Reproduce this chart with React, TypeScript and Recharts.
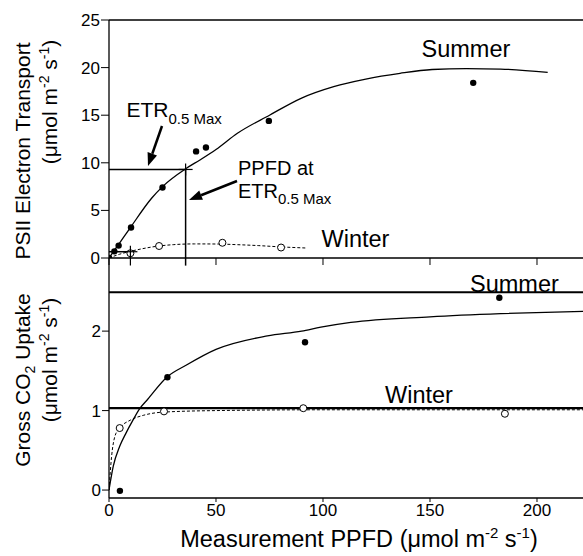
import { ComposedChart, Line, Scatter, XAxis, YAxis, ReferenceLine } from 'recharts'

// top panel: PSII electron transport, measured points
const etrSummerPpfd = [0, 2.5, 4.5, 10.3, 25, 40.7, 45.3, 74.7, 170.2]
const etrSummerVals = [0, 0.7, 1.3, 3.2, 7.4, 11.2, 11.6, 14.4, 18.4]
const etrWinterPpfd = [10, 23.4, 53, 80.4]
const etrWinterVals = [0.5, 1.26, 1.6, 1.1]

// top panel fitted curves
const etrSummerFitX = [0, 5, 10, 20, 25, 36, 42.5, 50, 60, 75, 90, 105, 120, 136, 151, 167, 183, 205]
const etrSummerFitY = [0, 1.6, 3.2, 6.3, 7.5, 9.4, 10.3, 11.4, 13.1, 15.0, 16.8, 18.0, 18.8, 19.4, 19.8, 19.9, 19.85, 19.5]
const etrWinterFitX = [0, 5, 10, 15, 23, 30, 40, 50, 60, 70, 80, 92]
const etrWinterFitY = [0, 0.4, 0.7, 0.95, 1.25, 1.4, 1.48, 1.47, 1.4, 1.3, 1.17, 1.05]

// ETR 0.5 max markers
const halfMaxSummer = { ppfd: 35.8, etr: 9.3 }
const halfMaxWinter = { ppfd: 10, etr: 0.66 }

// bottom panel: gross CO2 uptake
const co2SummerPpfd = [5.1, 27.3, 91.6, 182.4]
const co2SummerVals = [-0.01, 1.42, 1.86, 2.42]
const co2WinterPpfd = [5, 25.7, 90.8, 185]
const co2WinterVals = [0.78, 0.99, 1.03, 0.96]

const co2SummerFitX = [0, 2, 5, 8, 11, 14.5, 18, 27, 36, 50, 74, 90, 99, 113, 150, 183, 222]
const co2SummerFitY = [0, 0.3, 0.55, 0.72, 0.87, 1.03, 1.14, 1.42, 1.57, 1.77, 1.94, 2.0, 2.05, 2.11, 2.18, 2.22, 2.25]
const co2WinterFitX = [0, 1.2, 2.8, 5, 10, 16, 25, 50, 100, 222]
const co2WinterFitY = [0, 0.42, 0.68, 0.78, 0.88, 0.94, 0.98, 1.0, 1.01, 1.01]

const co2SummerMax = 2.49
const co2WinterMax = 1.03

const xTicks = [0, 50, 100, 150, 200]
const etrTicks = [0, 5, 10, 15, 20, 25]
const co2Ticks = [0, 1, 2]

const pts = (xs: number[], ys: number[]) => xs.map((x, i) => ({ x, y: ys[i] }))

const FONT = '"Liberation Sans", Arial, Helvetica, sans-serif'
const X_DOMAIN: [number, number] = [0, 221.5]

const FilledDot = (p: any) => <circle cx={p.cx} cy={p.cy} r={3.2} fill="#000" />
const OpenDot = (p: any) => <circle cx={p.cx} cy={p.cy} r={3.5} fill="#fff" stroke="#000" strokeWidth={1} />
const PlusMark = (p: any) => (
  <g stroke="#000" strokeWidth={1.2}>
    <line x1={p.cx - 7} y1={p.cy} x2={p.cx + 7} y2={p.cy} />
    <line x1={p.cx} y1={p.cy - 6} x2={p.cx} y2={p.cy + 6} />
  </g>
)

function Arrow({ x1, y1, x2, y2 }: { x1: number; y1: number; x2: number; y2: number }) {
  const dx = x2 - x1
  const dy = y2 - y1
  const len = Math.hypot(dx, dy)
  const ux = dx / len
  const uy = dy / len
  const bx = x2 - ux * 13
  const by = y2 - uy * 13
  const w = 5
  return (
    <g>
      <line x1={x1} y1={y1} x2={bx} y2={by} stroke="#000" strokeWidth={2.5} />
      <polygon points={`${x2},${y2} ${bx - uy * w},${by + ux * w} ${bx + uy * w},${by - ux * w}`} fill="#000" />
    </g>
  )
}

const tickStyle = { fontSize: 17, fill: '#000' }
const axisLine = { stroke: '#000', strokeWidth: 1.3 }

function Units({ size }: { size: number }) {
  const s = Math.round(size * 0.65)
  return (
    <>
      (μmol m<tspan fontSize={s} dy={-size * 0.38}>-2</tspan>
      <tspan dy={size * 0.38}> s</tspan>
      <tspan fontSize={s} dy={-size * 0.38}>-1</tspan>
      <tspan dy={size * 0.38}>)</tspan>
    </>
  )
}

export default function App() {
  return (
    <div style={{ position: 'absolute', left: 0, top: 0, width: 583, height: 556, background: '#fff', fontFamily: FONT }}>
      {/* bottom panel */}
      <div style={{ position: 'absolute', left: 0, top: 0 }}>
        <ComposedChart width={583} height={556} margin={{ top: 258, right: 0, bottom: 0, left: 49 }}>
          <XAxis
            dataKey="x"
            type="number"
            domain={X_DOMAIN}
            allowDataOverflow
            ticks={xTicks}
            height={58}
            tick={tickStyle}
            tickSize={4}
            tickMargin={2}
            axisLine={axisLine}
            tickLine={{ stroke: '#000' }}
          />
          <YAxis
            dataKey="y"
            type="number"
            domain={[-0.1, 2.92]}
            allowDataOverflow
            ticks={co2Ticks}
            width={60}
            tick={tickStyle}
            tickSize={7}
            tickMargin={1}
            axisLine={axisLine}
            tickLine={{ stroke: '#000' }}
          />
          <ReferenceLine y={co2SummerMax} stroke="#000" strokeWidth={2} />
          <ReferenceLine y={co2WinterMax} stroke="#000" strokeWidth={2.2} />
          <Line data={pts(co2SummerFitX, co2SummerFitY)} dataKey="y" type="monotone" stroke="#000" strokeWidth={1.3} dot={false} isAnimationActive={false} />
          <Line data={pts(co2WinterFitX, co2WinterFitY)} dataKey="y" type="monotone" stroke="#000" strokeWidth={1} strokeDasharray="3 2" dot={false} isAnimationActive={false} />
          <Scatter data={pts(co2SummerPpfd, co2SummerVals)} shape={FilledDot} isAnimationActive={false} />
          <Scatter data={pts(co2WinterPpfd, co2WinterVals)} shape={OpenDot} isAnimationActive={false} />
        </ComposedChart>
      </div>
      {/* top panel */}
      <div style={{ position: 'absolute', left: 0, top: 0 }}>
        <ComposedChart width={583} height={270} margin={{ top: 20, right: 0, bottom: 0, left: 49 }}>
          <XAxis
            dataKey="x"
            type="number"
            domain={X_DOMAIN}
            allowDataOverflow
            ticks={xTicks}
            height={12}
            tickFormatter={() => ''}
            tickSize={7}
            axisLine={axisLine}
            tickLine={{ stroke: '#000' }}
          />
          <YAxis
            dataKey="y"
            type="number"
            domain={[0, 25]}
            allowDataOverflow
            ticks={etrTicks}
            width={60}
            tick={tickStyle}
            tickSize={8}
            tickMargin={1}
            axisLine={axisLine}
            tickLine={{ stroke: '#000' }}
          />
          <ReferenceLine y={25} stroke="#000" strokeWidth={1.3} />
          <ReferenceLine
            segment={[{ x: 0, y: halfMaxSummer.etr }, { x: halfMaxSummer.ppfd, y: halfMaxSummer.etr }]}
            stroke="#000"
            strokeWidth={1.5}
            ifOverflow="visible"
          />
          <ReferenceLine
            segment={[{ x: halfMaxSummer.ppfd, y: halfMaxSummer.etr }, { x: halfMaxSummer.ppfd, y: -0.8 }]}
            stroke="#000"
            strokeWidth={1.5}
            ifOverflow="visible"
          />
          <ReferenceLine
            segment={[{ x: 0, y: halfMaxWinter.etr }, { x: halfMaxWinter.ppfd, y: halfMaxWinter.etr }]}
            stroke="#000"
            strokeWidth={1.5}
            ifOverflow="visible"
          />
          <ReferenceLine
            segment={[{ x: halfMaxWinter.ppfd, y: halfMaxWinter.etr }, { x: halfMaxWinter.ppfd, y: -0.8 }]}
            stroke="#000"
            strokeWidth={1.2}
            ifOverflow="visible"
          />
          <Line data={pts(etrSummerFitX, etrSummerFitY)} dataKey="y" type="monotone" stroke="#000" strokeWidth={1.3} dot={false} isAnimationActive={false} />
          <Line data={pts(etrWinterFitX, etrWinterFitY)} dataKey="y" type="monotone" stroke="#000" strokeWidth={1} strokeDasharray="3 2" dot={false} isAnimationActive={false} />
          <Scatter data={pts(etrSummerPpfd, etrSummerVals)} shape={FilledDot} isAnimationActive={false} />
          <Scatter data={pts(etrWinterPpfd, etrWinterVals)} shape={OpenDot} isAnimationActive={false} />
          <Scatter
            data={[{ x: halfMaxSummer.ppfd, y: halfMaxSummer.etr }, { x: halfMaxWinter.ppfd, y: halfMaxWinter.etr }]}
            shape={PlusMark}
            isAnimationActive={false}
          />
        </ComposedChart>
      </div>
      {/* annotations */}
      <svg width={583} height={556} style={{ position: 'absolute', left: 0, top: 0, pointerEvents: 'none' }} fontFamily={FONT}>
        <text x={126.5} y={116.5} fontSize={21}>
          ETR<tspan fontSize={15} dy={7}>0.5 Max</tspan>
        </text>
        <Arrow x1={162} y1={126} x2={148} y2={166} />
        <text x={238} y={175} fontSize={20}>PPFD at</text>
        <text x={238} y={198} fontSize={20}>
          ETR<tspan fontSize={15} dy={6}>0.5 Max</tspan>
        </text>
        <Arrow x1={237} y1={181} x2={189} y2={200} />
        <text x={421.5} y={56.5} fontSize={23.5}>Summer</text>
        <text x={321.5} y={246.5} fontSize={23.5}>Winter</text>
        <text x={470} y={291.5} fontSize={23.5}>Summer</text>
        <text x={385} y={403} fontSize={23.5}>Winter</text>

        <text transform="translate(29.5,151) rotate(-90)" textAnchor="middle" fontSize={21}>PSII Electron Transport</text>
        <text transform="translate(57,102) rotate(-90)" textAnchor="middle" fontSize={21}>
          <Units size={21} />
        </text>
        <text transform="translate(29.5,380) rotate(-90)" textAnchor="middle" fontSize={21}>
          Gross CO<tspan fontSize={14} dy={5}>2</tspan>
          <tspan dy={-5}> Uptake</tspan>
        </text>
        <text transform="translate(57,360) rotate(-90)" textAnchor="middle" fontSize={21}>
          <Units size={21} />
        </text>
        <text x={359} y={547} textAnchor="middle" fontSize={23.5}>
          Measurement PPFD <Units size={23.5} />
        </text>
      </svg>
    </div>
  )
}
